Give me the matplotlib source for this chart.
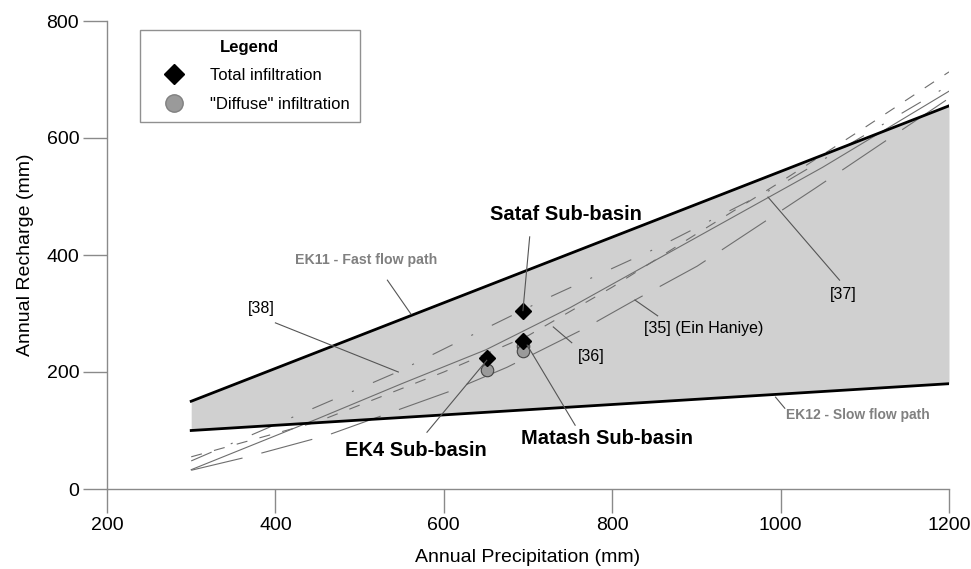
import matplotlib
matplotlib.use("Agg")
import matplotlib.pyplot as plt
from matplotlib.lines import Line2D

plt.rcParams['font.family'] = ['Liberation Sans', 'DejaVu Sans']
plt.rcParams['lines.scale_dashes'] = False

# Envelope (EK11 fast / EK12 slow flow path)
env_p = [300, 1200]
ek11_r = [150, 655]
ek12_r = [100, 180]

# Literature relations
ref37_p = [300, 450, 550, 650, 750, 850, 950, 1050, 1200]
ref37_r = [33, 120, 180, 238, 310, 390, 470, 550, 680]

ref38_p = [300, 545, 622, 724, 850, 1000, 1200]
ref38_r = [48, 200, 255, 327, 410, 520, 690]

ref36_p = [300, 450, 600, 700, 800, 900, 1000, 1100, 1200]
ref36_r = [55, 115, 200, 262, 345, 436, 525, 618, 713]

ref35_p = [300, 367, 462, 611, 675, 764, 827, 901, 1041, 1200]
ref35_r = [32, 55, 92, 169, 208, 272, 323, 381, 514, 668]

# Sub-basin estimates
total_p = [651, 694, 694]
total_r = [224, 305, 253]
diffuse_p = [694, 651, 694]
diffuse_r = [244, 204, 236]

fig = plt.figure(figsize=(9.71, 5.69), dpi=100)
ax = fig.add_axes([107/971, 1-489/569, 842/971, 468/569])

ax.fill_between(env_p, ek12_r, ek11_r, color='#d0d0d0', zorder=1, lw=0)
ax.plot(env_p, ek11_r, color='black', lw=2.0, zorder=3)
ax.plot(env_p, ek12_r, color='black', lw=2.0, zorder=3)

lc = '#6e6e6e'
ax.plot(ref37_p, ref37_r, color=lc, lw=0.8, zorder=2)
l38, = ax.plot(ref38_p, ref38_r, color=lc, lw=0.8, zorder=2)
l38.set_dashes([16, 15, 1.5, 15])
l36, = ax.plot(ref36_p, ref36_r, color=lc, lw=0.8, zorder=2)
l36.set_dashes([8, 9])
l35, = ax.plot(ref35_p, ref35_r, color=lc, lw=0.8, zorder=2)
l35.set_dashes([38, 14])

ax.plot(diffuse_p, diffuse_r, 'o', ms=9, mfc='#9a9a9a', mec='#444444', mew=0.8,
        ls='none', zorder=4)
ax.plot(total_p, total_r, 'D', ms=8, mfc='black', mec='black', ls='none', zorder=5)

# Legend
h1 = Line2D([], [], marker='D', ms=10.5, color='black', ls='none')
h2 = Line2D([], [], marker='o', ms=12.5, mfc='#9a9a9a', mec='#808080', ls='none')
leg = ax.legend([h1, h2], ['Total infiltration', '"Diffuse" infiltration'],
                title='Legend', loc='upper left', bbox_to_anchor=(0.039, 0.981),
                borderaxespad=0, fancybox=False, edgecolor='#909090', framealpha=1,
                fontsize=12, title_fontproperties={'weight': 'bold', 'size': 12},
                handletextpad=0.7, borderpad=0.6, labelspacing=0.8, handlelength=2.9)
leg.get_frame().set_linewidth(1.0)

# Annotations
gc = '#555555'
def leader(x0, y0, x1, y1):
    ax.plot([x0, x1], [y0, y1], color=gc, lw=0.8, zorder=6)

ax.text(745, 470, 'Sataf Sub-basin', ha='center', va='center', fontsize=14.5, fontweight='bold')
leader(702, 431, 694, 305)
ax.text(567, 66, 'EK4 Sub-basin', ha='center', va='center', fontsize=14.5, fontweight='bold')
leader(580, 97, 651, 220)
ax.text(794, 87, 'Matash Sub-basin', ha='center', va='center', fontsize=14.5, fontweight='bold')
leader(756, 109, 699, 246)
ax.text(508, 391, 'EK11 - Fast flow path', ha='center', va='center', fontsize=10.2,
        fontweight='bold', color='#808080')
leader(533, 357, 561, 299)
ax.text(1092, 127, 'EK12 - Slow flow path', ha='center', va='center', fontsize=10,
        fontweight='bold', color='#808080')
leader(994, 157, 1005, 138)
ax.text(383, 309, '[38]', ha='center', va='center', fontsize=11.5)
leader(400, 284, 546, 200)
ax.text(775, 226, '[36]', ha='center', va='center', fontsize=11.5)
leader(730, 277, 752, 250)
ax.text(909, 275, '[35] (Ein Haniye)', ha='center', va='center', fontsize=11.5)
leader(827, 323, 854, 296)
ax.text(1074, 332, '[37]', ha='center', va='center', fontsize=11.5)
leader(985, 499, 1070, 357)

ax.set_xlim(200, 1200)
ax.set_ylim(0, 800)
ax.set_xticks([200, 400, 600, 800, 1000, 1200])
ax.set_yticks([0, 200, 400, 600, 800])
for s in ['top', 'right']:
    ax.spines[s].set_visible(False)
for s in ['left', 'bottom']:
    ax.spines[s].set_color('#8a8a8a')
    ax.spines[s].set_linewidth(1.0)
ax.tick_params(direction='out', length=17, width=1.0, color='#8a8a8a',
               labelsize=14, pad=3)
ax.set_xlabel('Annual Precipitation (mm)', fontsize=14, labelpad=11)
ax.set_ylabel('Annual Recharge (mm)', fontsize=14, labelpad=9)

fig.savefig('out.png', dpi=100)
